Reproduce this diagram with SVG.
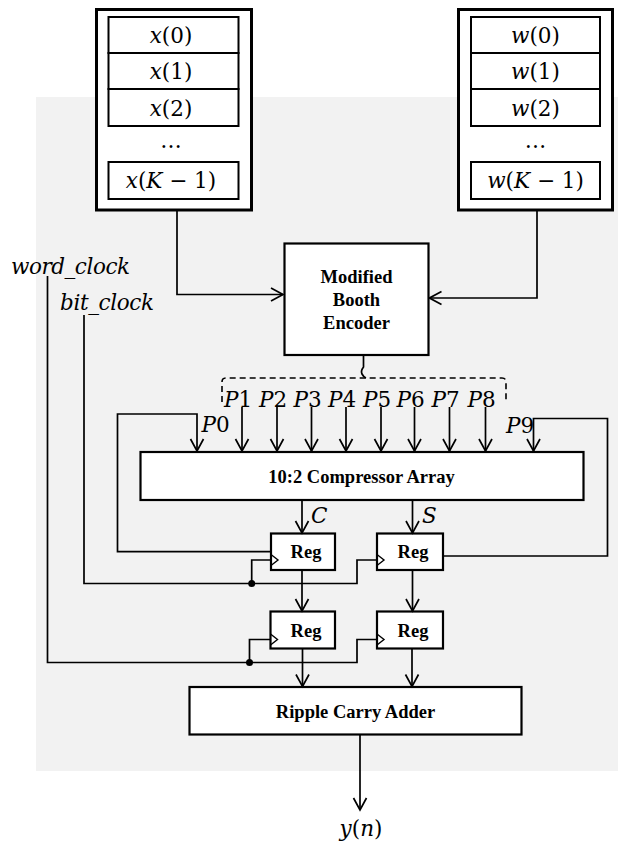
<svg xmlns="http://www.w3.org/2000/svg" width="618" height="843" viewBox="0 0 618 843">
  <style>
    .box { fill: #ffffff; stroke: #000000; stroke-width: 2.2; }
    .outer { fill: #ffffff; stroke: #000000; stroke-width: 3; }
    .cell { fill: #ffffff; stroke: #000000; stroke-width: 2; }
    .wire { fill: none; stroke: #000000; stroke-width: 1.7; }
    .dash { fill: none; stroke: #000000; stroke-width: 1.6; stroke-dasharray: 6 4; }
    .clk { fill: none; stroke: #000000; stroke-width: 1.4; }
    .bold { font-family: "Liberation Serif", "Times New Roman", serif; font-weight: bold; font-size: 18.5px; fill: #000000; text-anchor: middle; }
    .math { font-family: "DejaVu Serif", "Liberation Serif", serif; font-size: 21.5px; fill: #000000; }
    .mid { text-anchor: middle; }
    .it { font-style: italic; }
  </style>
  <defs>
    <marker id="arrow" viewBox="-14 -8 16 16" markerWidth="16" markerHeight="16" refX="0" refY="0" orient="auto" markerUnits="userSpaceOnUse">
      <path d="M-12,-6.5 L0,0 L-12,6.5" fill="none" stroke="#000000" stroke-width="1.7"/>
    </marker>
  </defs>

  <!-- shaded processing area -->
  <rect x="36" y="97" width="582" height="674" fill="#f2f2f2"/>

  <!-- input sample memory -->
  <g id="x-memory">
    <rect class="outer" x="96.5" y="9.5" width="155" height="200.5"/>
    <rect class="cell" x="108.5" y="17" width="130" height="36"/>
    <rect class="cell" x="108.5" y="53" width="130" height="36"/>
    <rect class="cell" x="108.5" y="89" width="130" height="37"/>
    <rect class="cell" x="108.5" y="162" width="130" height="37"/>
    <text class="math mid" x="171" y="43"><tspan class="it">x</tspan>(0)</text>
    <text class="math mid" x="171" y="79"><tspan class="it">x</tspan>(1)</text>
    <text class="math mid" x="171" y="115.5"><tspan class="it">x</tspan>(2)</text>
    <text class="math mid" x="171" y="148" font-size="24">…</text>
    <text class="math mid" x="171" y="187.5" font-size="19.5"><tspan class="it">x</tspan>(<tspan class="it">K</tspan> − 1)</text>
  </g>

  <!-- coefficient memory -->
  <g id="w-memory">
    <rect class="outer" x="458.5" y="9.5" width="154" height="200.5"/>
    <rect class="cell" x="471" y="17" width="129" height="36"/>
    <rect class="cell" x="471" y="53" width="129" height="36"/>
    <rect class="cell" x="471" y="89" width="129" height="37"/>
    <rect class="cell" x="471" y="162" width="129" height="37"/>
    <text class="math mid" x="535.5" y="43"><tspan class="it">w</tspan>(0)</text>
    <text class="math mid" x="535.5" y="79"><tspan class="it">w</tspan>(1)</text>
    <text class="math mid" x="535.5" y="115.5"><tspan class="it">w</tspan>(2)</text>
    <text class="math mid" x="535.5" y="148" font-size="24">…</text>
    <text class="math mid" x="535.5" y="187.5" font-size="19.5"><tspan class="it">w</tspan>(<tspan class="it">K</tspan> − 1)</text>
  </g>

  <g id="booth-encoder">
    <rect class="box" x="284.5" y="243.5" width="144" height="111.5"/>
    <text class="bold" x="356.5" y="282.7">Modified</text>
    <text class="bold" x="356.5" y="306">Booth</text>
    <text class="bold" x="356.5" y="329.3">Encoder</text>
  </g>

  <g id="compressor">
    <rect class="box" x="140.5" y="452" width="443" height="48"/>
    <text class="bold" x="361.5" y="483">10:2 Compressor Array</text>
  </g>

  <g id="reg-c1">
    <rect class="box" x="271" y="533.5" width="64" height="36.5"/>
    <polyline class="clk" points="271,554.5 278,560 271,565.5"/>
    <text class="bold" x="306" y="557.5">Reg</text>
  </g>
  <g id="reg-s1">
    <rect class="box" x="377" y="533.5" width="66" height="36.5"/>
    <polyline class="clk" points="377,554.5 384,560 377,565.5"/>
    <text class="bold" x="413" y="557.5">Reg</text>
  </g>
  <g id="reg-c2">
    <rect class="box" x="270.5" y="611.5" width="64.5" height="37"/>
    <polyline class="clk" points="270.5,634 277.5,639.5 270.5,645"/>
    <text class="bold" x="306" y="636.5">Reg</text>
  </g>
  <g id="reg-s2">
    <rect class="box" x="377" y="611.5" width="66" height="37"/>
    <polyline class="clk" points="377,634 384,639.5 377,645"/>
    <text class="bold" x="413" y="636.5">Reg</text>
  </g>

  <g id="ripple-carry-adder">
    <rect class="box" x="189.5" y="687" width="332" height="47.5"/>
    <text class="bold" x="355.5" y="718">Ripple Carry Adder</text>
  </g>

  <g id="connectors">
    <!-- memories to encoder -->
    <polyline class="wire" points="177,210 177,294.5 283,294.5" marker-end="url(#arrow)"/>
    <polyline class="wire" points="537,210 537,298 429.5,298" marker-end="url(#arrow)"/>

    <!-- encoder output brace -->
    <path class="wire" d="M363.5,355 V367 Q360.5,371 362,374 Q363.5,377 366,378"/>
    <path class="dash" d="M222,402 V382 Q222,378 226,378 H502 Q506,378 506,382 V402"/>

    <!-- partial products -->
    <line class="wire" x1="242" y1="407" x2="242" y2="451" marker-end="url(#arrow)"/>
    <line class="wire" x1="277" y1="407" x2="277" y2="451" marker-end="url(#arrow)"/>
    <line class="wire" x1="311.5" y1="407" x2="311.5" y2="451" marker-end="url(#arrow)"/>
    <line class="wire" x1="346" y1="407" x2="346" y2="451" marker-end="url(#arrow)"/>
    <line class="wire" x1="381" y1="407" x2="381" y2="451" marker-end="url(#arrow)"/>
    <line class="wire" x1="414.5" y1="407" x2="414.5" y2="451" marker-end="url(#arrow)"/>
    <line class="wire" x1="449.5" y1="407" x2="449.5" y2="451" marker-end="url(#arrow)"/>
    <line class="wire" x1="485.5" y1="407" x2="485.5" y2="451" marker-end="url(#arrow)"/>

    <!-- feedback loops -->
    <polyline class="wire" points="271,551.7 117.5,551.7 117.5,414 197,414 197,451" marker-end="url(#arrow)"/>
    <polyline class="wire" points="443,556 607.5,556 607.5,418.5 533.5,418.5 533.5,451" marker-end="url(#arrow)"/>

    <!-- compressor outputs -->
    <line class="wire" x1="302" y1="500" x2="302" y2="533" marker-end="url(#arrow)"/>
    <line class="wire" x1="412.5" y1="500" x2="412.5" y2="533" marker-end="url(#arrow)"/>

    <!-- register pipeline -->
    <line class="wire" x1="302" y1="570" x2="302" y2="611" marker-end="url(#arrow)"/>
    <line class="wire" x1="412.5" y1="570" x2="412.5" y2="611" marker-end="url(#arrow)"/>
    <line class="wire" x1="302.5" y1="648.5" x2="302.5" y2="686.5" marker-end="url(#arrow)"/>
    <line class="wire" x1="412" y1="648.5" x2="412" y2="686.5" marker-end="url(#arrow)"/>

    <!-- bit clock -->
    <polyline class="wire" points="84,315 84,583.5 357,583.5 357,560 377,560"/>
    <polyline class="wire" points="251.7,583.5 251.7,560 271,560"/>
    <circle cx="251.7" cy="583.5" r="3.5" fill="#000000"/>

    <!-- word clock -->
    <polyline class="wire" points="47.5,276 47.5,662.5 357,662.5 357,639.5 377,639.5"/>
    <polyline class="wire" points="249.5,662.5 249.5,639.5 270.5,639.5"/>
    <circle cx="249.5" cy="662.5" r="3.5" fill="#000000"/>

    <!-- result -->
    <line class="wire" x1="360" y1="734.5" x2="360" y2="810" marker-end="url(#arrow)"/>
  </g>

  <!-- signal labels -->
  <g id="labels">
    <text class="math it" x="11" y="274" textLength="119">word_clock</text>
    <text class="math it" x="60" y="310" textLength="94">bit_clock</text>
    <text class="math" x="201.5" y="431.5"><tspan class="it">P</tspan>0</text>
    <text class="math mid" x="238" y="406.5"><tspan class="it">P</tspan>1</text>
    <text class="math mid" x="273" y="406.5"><tspan class="it">P</tspan>2</text>
    <text class="math mid" x="307.5" y="406.5"><tspan class="it">P</tspan>3</text>
    <text class="math mid" x="342" y="406.5"><tspan class="it">P</tspan>4</text>
    <text class="math mid" x="377" y="406.5"><tspan class="it">P</tspan>5</text>
    <text class="math mid" x="410.5" y="406.5"><tspan class="it">P</tspan>6</text>
    <text class="math mid" x="445.5" y="406.5"><tspan class="it">P</tspan>7</text>
    <text class="math mid" x="481.5" y="406.5"><tspan class="it">P</tspan>8</text>
    <text class="math" x="506" y="433"><tspan class="it">P</tspan>9</text>
    <text class="math it" x="311" y="523" font-size="19.5">C</text>
    <text class="math it" x="422" y="523" font-size="19.5">S</text>
    <text class="math mid" x="361" y="836" font-size="23"><tspan class="it">y</tspan>(<tspan class="it">n</tspan>)</text>
  </g>
</svg>
